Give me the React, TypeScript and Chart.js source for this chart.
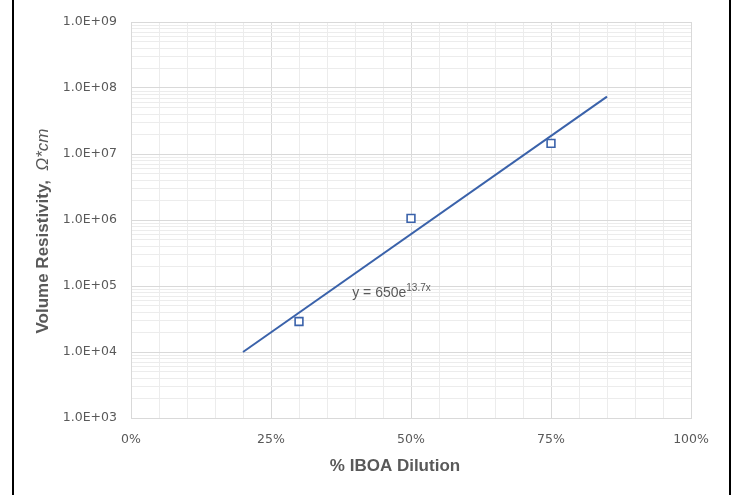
import React, { useEffect, useRef } from "react";
import { Chart, registerables } from "chart.js";

Chart.register(...registerables);

// Measured points: % IBOA dilution vs volume resistivity (Ω*cm)
const dilution = [0.3, 0.5, 0.75];
const resistivity = [2.9e4, 1.06e6, 1.45e7];

// Exponential trendline endpoints (y = 650e^13.7x)
const trendX = [0.2, 0.85];
const trendY = [1.0e4, 7.4e7];

const equationMain = "y = 650e";
const equationSup = "13.7x";
const equationPos = { x: 0.395, y: 6.9e4 };

const xMajorValues = [0, 0.25, 0.5, 0.75, 1];
const xTickLabels = ["0%", "25%", "50%", "75%", "100%"];
const yDecades = [3, 4, 5, 6, 7, 8, 9];
const yTickLabels = ["1.0E+03", "1.0E+04", "1.0E+05", "1.0E+06", "1.0E+07", "1.0E+08", "1.0E+09"];

const xTitle = "% IBOA Dilution";
const yTitleA = "Volume Resistivity,  ";
const yTitleB = "Ω*cm";

const BLUE = "#3A62AA";
const TEXT = "#595959";
const MAJOR = "#d9d9d9";
const MINOR = "#ececec";

const isMajorX = (v: number) => Math.abs(v * 4 - Math.round(v * 4)) < 1e-9;
const isDecade = (v: number) => {
  const l = Math.log10(v);
  return Math.abs(l - Math.round(l)) < 1e-9;
};

const decorPlugin = {
  id: "decor",
  afterDraw(chart: any) {
    const ctx = chart.ctx;
    const xs = chart.scales.x;
    const ys = chart.scales.y;
    ctx.save();
    // outer frame lines
    ctx.fillStyle = "#000";
    ctx.fillRect(12, 0, 2, 495);
    ctx.fillRect(729, 0, 2, 495);

    ctx.fillStyle = TEXT;
    // y title
    ctx.save();
    ctx.translate(43, 231);
    ctx.rotate(-Math.PI / 2);
    ctx.textBaseline = "middle";
    ctx.textAlign = "left";
    ctx.font = 'bold 17px "Liberation Sans"';
    const w1 = ctx.measureText(yTitleA).width;
    ctx.font = 'italic 17px "Liberation Sans"';
    const w2 = ctx.measureText(yTitleB).width;
    const start = -(w1 + w2) / 2;
    ctx.font = 'bold 17px "Liberation Sans"';
    ctx.fillText(yTitleA, start, 0);
    ctx.font = 'italic 17px "Liberation Sans"';
    ctx.fillText(yTitleB, start + w1, 0);
    ctx.restore();

    // x title
    ctx.font = 'bold 17px "Liberation Sans"';
    ctx.textAlign = "center";
    ctx.textBaseline = "middle";
    ctx.fillText(xTitle, 395, 466);

    // trendline equation
    const ex = xs.getPixelForValue(equationPos.x);
    const ey = ys.getPixelForValue(equationPos.y);
    ctx.textAlign = "left";
    ctx.textBaseline = "alphabetic";
    ctx.font = '14px "Liberation Sans"';
    ctx.fillText(equationMain, ex, ey);
    const mw = ctx.measureText(equationMain).width;
    ctx.font = '10px "Liberation Sans"';
    ctx.fillText(equationSup, ex + mw, ey - 6);
    ctx.restore();
  },
};

export default function App() {
  const ref = useRef<HTMLCanvasElement | null>(null);
  useEffect(() => {
    if (!ref.current) return;
    const chart = new Chart(ref.current, {
      type: "scatter",
      data: {
        datasets: [
          {
            label: "Trend",
            data: trendX.map((x, i) => ({ x, y: trendY[i] })),
            showLine: true,
            borderColor: BLUE,
            borderWidth: 2,
            pointRadius: 0,
            fill: false,
            order: 2,
          },
          {
            label: "Data",
            data: dilution.map((x, i) => ({ x, y: resistivity[i] })),
            pointStyle: "rect",
            pointRadius: 5.5,
            pointBorderWidth: 1.6,
            borderColor: BLUE,
            backgroundColor: "#ffffff",
            order: 1,
          },
        ],
      },
      options: {
        responsive: false,
        animation: false,
        layout: { padding: { left: 0, top: 22, right: 45, bottom: 0 } },
        plugins: { legend: { display: false }, tooltip: { enabled: false }, title: { display: false } },
        scales: {
          x: {
            type: "linear",
            min: 0,
            max: 1,
            afterBuildTicks: (scale: any) => {
              const t = [];
              for (let i = 0; i <= 20; i++) t.push({ value: i / 20 });
              scale.ticks = t;
            },
            afterFit: (scale: any) => {
              scale.height = 77;
            },
            grid: {
              drawTicks: false,
              color: (c: any) => (c.tick && isMajorX(c.tick.value) ? MAJOR : MINOR),
              lineWidth: 1,
            },
            border: { display: true, color: MAJOR },
            ticks: {
              autoSkip: false,
              maxRotation: 0,
              padding: 14,
              color: TEXT,
              font: { family: "DejaVu Sans", size: 12.5 },
              callback: (v: any) => {
                const idx = xMajorValues.findIndex((m) => Math.abs(m - v) < 1e-9);
                return idx >= 0 ? xTickLabels[idx] : "";
              },
            },
          },
          y: {
            type: "logarithmic",
            min: 1e3,
            max: 1e9,
            afterBuildTicks: (scale: any) => {
              const t = [];
              for (let d = 3; d < 9; d++) {
                for (let s = 1; s <= 9; s++) t.push({ value: s * Math.pow(10, d) });
              }
              t.push({ value: 1e9 });
              scale.ticks = t;
            },
            afterFit: (scale: any) => {
              scale.width = 131;
            },
            grid: {
              drawTicks: false,
              color: (c: any) => (c.tick && isDecade(c.tick.value) ? MAJOR : MINOR),
              lineWidth: 1,
            },
            border: { display: true, color: MAJOR },
            ticks: {
              autoSkip: false,
              padding: 14,
              color: TEXT,
              font: { family: "DejaVu Sans", size: 12.5 },
              callback: (v: any) => {
                if (!isDecade(v)) return "";
                const d = Math.round(Math.log10(v));
                const idx = yDecades.indexOf(d);
                return idx >= 0 ? yTickLabels[idx] : "";
              },
            },
          },
        },
      },
      plugins: [decorPlugin],
    } as any);
    return () => chart.destroy();
  }, []);

  return (
    <div style={{ position: "absolute", left: 0, top: 0, width: 736, height: 495, background: "#fff" }}>
      <canvas ref={ref} width={736} height={495} style={{ display: "block" }} />
    </div>
  );
}
